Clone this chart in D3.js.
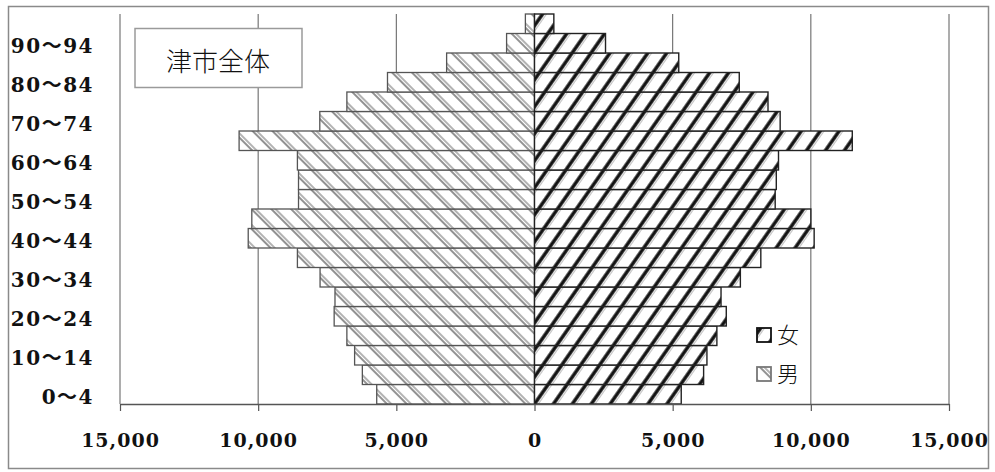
<!DOCTYPE html>
<html>
<head>
<meta charset="utf-8">
<script src="https://cdn.jsdelivr.net/npm/d3@7"></script>
<style>
  body { margin: 0; background: #fff; }
</style>
</head>
<body>
<div id="chart"></div>
<script>
// age groups, bottom to top
const ages = ["0～4", "5～9", "10～14", "15～19", "20～24", "25～29", "30～34", "35～39",
  "40～44", "45～49", "50～54", "55～59", "60～64", "65～69", "70～74", "75～79",
  "80～84", "85～89", "90～94", "95～"];
const male = [5710, 6230, 6510, 6790, 7250, 7220, 7760, 8580, 10360, 10230,
  8540, 8540, 8580, 10690, 7770, 6790, 5320, 3180, 1010, 330];
const female = [5310, 6120, 6240, 6600, 6940, 6750, 7450, 8190, 10120, 10000,
  8710, 8750, 8830, 11500, 8890, 8450, 7410, 5220, 2570, 700];
const xTicks = [-15000, -10000, -5000, 0, 5000, 10000, 15000];
const legendLabels = ["女", "男"];
const title = "津市全体";

const width = 995, height = 472;
const plot = { left: 120, right: 949, top: 14, bottom: 404 };

const svg = d3.select("#chart").append("svg")
  .attr("width", width).attr("height", height);

const defs = svg.append("defs");

// female: thick dark "/" hatch
const pf = defs.append("pattern")
  .attr("id", "hatchF")
  .attr("patternUnits", "userSpaceOnUse")
  .attr("width", 15.5).attr("height", 20)
  .attr("patternTransform", "rotate(35)");
pf.append("rect").attr("width", 15.5).attr("height", 20).attr("fill", "#fff");
pf.append("line").attr("x1", 3).attr("y1", 0).attr("x2", 3).attr("y2", 20)
  .attr("stroke", "#111").attr("stroke-width", 3.4);
pf.append("line").attr("x1", 6).attr("y1", 0).attr("x2", 6).attr("y2", 20)
  .attr("stroke", "#999").attr("stroke-width", 0.8);

// male: gray double "\" hatch
const pm = defs.append("pattern")
  .attr("id", "hatchM")
  .attr("patternUnits", "userSpaceOnUse")
  .attr("width", 14).attr("height", 20)
  .attr("patternTransform", "rotate(-45)");
pm.append("rect").attr("width", 14).attr("height", 20).attr("fill", "#fff");
pm.append("line").attr("x1", 2).attr("y1", 0).attr("x2", 2).attr("y2", 20)
  .attr("stroke", "#6e6e6e").attr("stroke-width", 1.5);
pm.append("line").attr("x1", 5).attr("y1", 0).attr("x2", 5).attr("y2", 20)
  .attr("stroke", "#8a8a8a").attr("stroke-width", 1.3);

// outer frame
svg.append("rect")
  .attr("x", 8.5).attr("y", 6.5)
  .attr("width", 980).attr("height", 462)
  .attr("fill", "none")
  .attr("stroke", "#8a8a8a").attr("stroke-width", 1.5);

const x = d3.scaleLinear().domain([-15000, 15000]).range([plot.left, plot.right]);
const y = d3.scaleBand().domain(ages).range([plot.bottom, plot.top]).padding(0);

// grid lines
svg.append("g").selectAll("line")
  .data(xTicks)
  .enter()
  .append("line")
  .attr("x1", d => x(d)).attr("x2", d => x(d))
  .attr("y1", plot.top).attr("y2", plot.bottom)
  .attr("stroke", "#6a6a6a").attr("stroke-width", 1.1);

// bars
const bars = svg.append("g");
bars.selectAll(".m")
  .data(male)
  .enter()
  .append("rect")
  .attr("class", "m")
  .attr("x", d => x(-d))
  .attr("y", (d, i) => y(ages[i]))
  .attr("width", d => x(0) - x(-d))
  .attr("height", y.bandwidth())
  .attr("fill", "url(#hatchM)")
  .attr("stroke", "#555").attr("stroke-width", 1.3);

bars.selectAll(".f")
  .data(female)
  .enter()
  .append("rect")
  .attr("class", "f")
  .attr("x", x(0))
  .attr("y", (d, i) => y(ages[i]))
  .attr("width", d => x(d) - x(0))
  .attr("height", y.bandwidth())
  .attr("fill", "url(#hatchF)")
  .attr("stroke", "#222").attr("stroke-width", 1.4);

// x axis
const xAxis = svg.append("g")
  .attr("transform", `translate(0,${plot.bottom})`)
  .call(d3.axisBottom(x).tickValues(xTicks).tickSize(7).tickSizeOuter(0)
    .tickFormat(d => d3.format(",")(Math.abs(d))));
xAxis.select(".domain").attr("stroke", "#555").attr("stroke-width", 1.4);
xAxis.selectAll(".tick line").attr("stroke", "#555").attr("stroke-width", 1.2);
xAxis.selectAll(".tick text")
  .attr("y", 43).attr("dy", 0)
  .style("font-family", "'DejaVu Serif', serif")
  .style("font-weight", "bold")
  .style("font-size", "19px")
  .style("letter-spacing", "1px")
  .attr("fill", "#111");

// y axis labels (every other group)
const yAxis = svg.append("g")
  .attr("transform", `translate(${plot.left},3)`)
  .call(d3.axisLeft(y).tickValues(ages.filter((d, i) => i % 2 === 0)).tickSize(0).tickPadding(26));
yAxis.select(".domain").remove();
yAxis.selectAll(".tick text")
  .style("font-family", "'DejaVu Serif', 'Noto Sans CJK JP', serif")
  .style("font-weight", "bold")
  .style("font-size", "20px")
  .style("letter-spacing", "1.5px")
  .attr("fill", "#111");

// title box
svg.append("rect")
  .attr("x", 135).attr("y", 28.5)
  .attr("width", 167).attr("height", 59)
  .attr("fill", "#fff")
  .attr("stroke", "#9a9a9a").attr("stroke-width", 1.5);
svg.append("text")
  .attr("x", 218).attr("y", 71)
  .attr("text-anchor", "middle")
  .style("font-family", "'Noto Sans CJK JP', sans-serif")
  .style("font-weight", "300")
  .style("font-size", "26px")
  .attr("fill", "#111")
  .text(title);

// legend
const legend = svg.append("g").attr("transform", "translate(757,328)");
const lg = legend.selectAll("g")
  .data(legendLabels)
  .enter()
  .append("g")
  .attr("transform", (d, i) => `translate(0,${i * 39})`);
lg.append("rect")
  .attr("width", 14).attr("height", 14)
  .attr("fill", (d, i) => i === 0 ? "url(#hatchF)" : "url(#hatchM)")
  .attr("stroke", (d, i) => i === 0 ? "#111" : "#777")
  .attr("stroke-width", 1.8);
lg.append("text")
  .attr("x", 20).attr("y", 15)
  .style("font-family", "'Noto Sans CJK JP', sans-serif")
  .style("font-weight", "300")
  .style("font-size", "22px")
  .attr("fill", "#111")
  .text(d => d);
</script>
</body>
</html>
